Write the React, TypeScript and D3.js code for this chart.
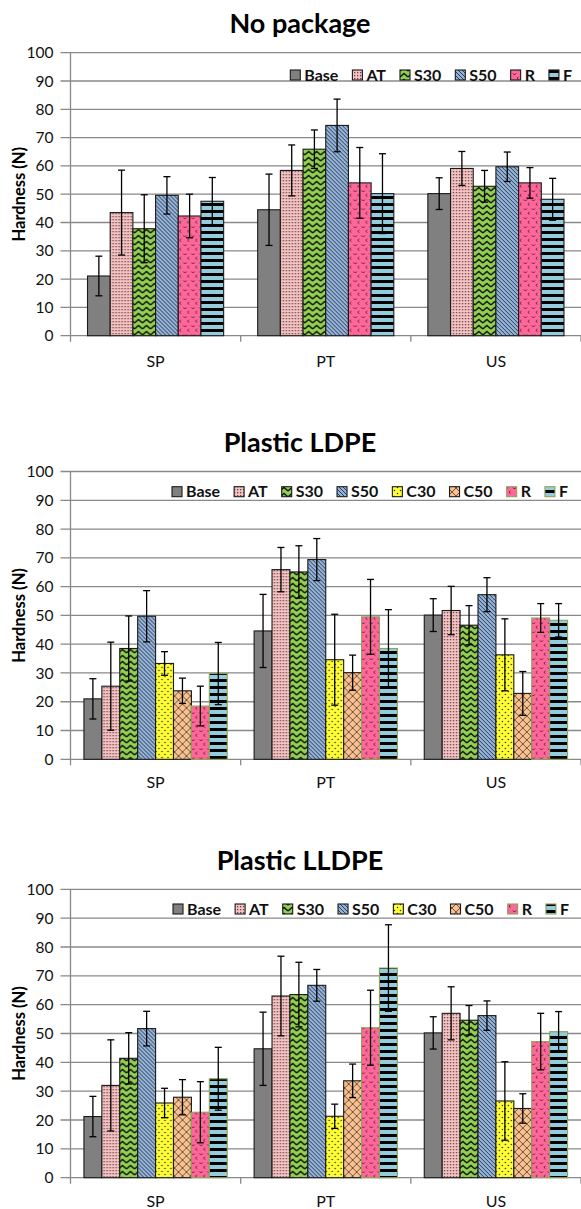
import React from "react";
import * as d3 from "d3";

const categories = ["SP", "PT", "US"];
const seriesNoPackage = ["Base", "AT", "S30", "S50", "R", "F"];
const seriesPlastic = ["Base", "AT", "S30", "S50", "C30", "C50", "R", "F"];

// rows = categories (SP, PT, US), columns = series
const noPackageMean = [
  [21.1, 43.5, 37.8, 49.6, 42.3, 47.5],
  [44.5, 58.4, 65.9, 74.3, 54.0, 50.2],
  [50.2, 59.1, 52.8, 59.7, 54.0, 48.2],
];
const noPackageSd = [
  [7.0, 15.0, 12.0, 6.6, 7.7, 8.4],
  [12.6, 9.0, 6.8, 9.3, 12.5, 14.1],
  [5.6, 6.0, 5.6, 5.2, 5.4, 7.4],
];
const ldpeMean = [
  [21.0, 25.4, 38.5, 49.7, 33.3, 23.8, 18.5, 29.8],
  [44.6, 65.9, 65.1, 69.4, 34.6, 30.1, 49.5, 38.5],
  [50.1, 51.7, 46.6, 57.2, 36.3, 22.9, 49.1, 48.3],
];
const ldpeSd = [
  [7.0, 15.3, 11.3, 8.9, 4.1, 4.4, 6.9, 10.8],
  [12.7, 7.7, 9.1, 7.3, 15.8, 6.1, 13.0, 13.5],
  [5.7, 8.4, 6.8, 5.9, 12.5, 7.6, 5.0, 5.8],
];
const lldpeMean = [
  [21.2, 32.0, 41.4, 51.7, 25.9, 27.9, 22.7, 34.3],
  [44.7, 63.0, 63.5, 66.7, 21.3, 33.6, 52.0, 72.7],
  [50.2, 57.0, 54.6, 56.2, 26.6, 24.0, 47.2, 50.6],
];
const lldpeSd = [
  [7.0, 15.8, 8.9, 6.0, 5.1, 6.1, 10.6, 10.9],
  [12.7, 13.8, 11.2, 5.5, 4.2, 5.8, 13.0, 15.0],
  [5.6, 9.2, 5.1, 5.1, 13.6, 5.1, 9.8, 7.0],
];
const yTicks = [0, 10, 20, 30, 40, 50, 60, 70, 80, 90, 100];

const FONT = "Lato, 'Noto Sans', sans-serif";
const GRID = "#898989";
const OLIVE = "#8ea35a";

const panels = [
  { title: "No package", series: seriesNoPackage, mean: noPackageMean, sd: noPackageSd,
    titleY: 33, top: 52.7, bottom: 335.7, legendY: 75, legendEnd: 572, labelY: 366.5, olive: false },
  { title: "Plastic LDPE", series: seriesPlastic, mean: ldpeMean, sd: ldpeSd,
    titleY: 452, top: 471.5, bottom: 759.3, legendY: 491.7, legendEnd: 568, labelY: 788, olive: true },
  { title: "Plastic LLDPE", series: seriesPlastic, mean: lldpeMean, sd: lldpeSd,
    titleY: 870, top: 889.3, bottom: 1177.7, legendY: 909, legendEnd: 569, labelY: 1206.5, olive: true },
];

const LEFT = 70.5;
const RIGHT = 581;

let ctx: CanvasRenderingContext2D | null = null;
function textWidth(s: string, font: string) {
  if (!ctx) ctx = document.createElement("canvas").getContext("2d");
  if (!ctx) return s.length * 9;
  ctx.font = font;
  return ctx.measureText(s).width;
}

function Patterns() {
  return (
    <defs>
      <pattern id="p-Base" patternUnits="userSpaceOnUse" width="4" height="4">
        <rect width="4" height="4" fill="#808080" />
      </pattern>
      <pattern id="p-AT" patternUnits="userSpaceOnUse" width="3" height="3">
        <rect width="3" height="3" fill="#f5c3c3" />
        <rect x="0" y="0" width="1.3" height="1.3" fill="#6b4545" />
      </pattern>
      <pattern id="p-S30" patternUnits="userSpaceOnUse" width="8" height="6">
        <rect width="8" height="6" fill="#92d050" />
        <path d="M0,5 L4,1.5 L8,5" stroke="#111" strokeWidth="1.4" fill="none" />
      </pattern>
      <pattern id="p-S50" patternUnits="userSpaceOnUse" width="4" height="4">
        <rect width="4" height="4" fill="#95b3d7" />
        <path d="M-1,-1 L5,5 M-1,3 L1,5 M3,-1 L5,1" stroke="#1f2f45" strokeWidth="0.9" />
      </pattern>
      <pattern id="p-C30" patternUnits="userSpaceOnUse" width="6" height="6">
        <rect width="6" height="6" fill="#ffff33" />
        <circle cx="1.5" cy="1.5" r="0.75" fill="#222" />
        <circle cx="4.5" cy="4.5" r="0.75" fill="#222" />
      </pattern>
      <pattern id="p-C50" patternUnits="userSpaceOnUse" width="8" height="8">
        <rect width="8" height="8" fill="#fac090" />
        <path d="M0,0 L8,8 M8,0 L0,8" stroke="#4a3a2a" strokeWidth="0.8" />
      </pattern>
      <pattern id="p-R" patternUnits="userSpaceOnUse" width="8" height="9">
        <rect width="8" height="9" fill="#ff6699" />
        <path d="M1,1.5 L2.5,3 L4,1.5" stroke="#3a1a24" strokeWidth="0.9" fill="none" />
        <path d="M6.5,5 L5,6.3 L6.5,7.6" stroke="#3a1a24" strokeWidth="0.9" fill="none" />
      </pattern>
      <pattern id="p-F" patternUnits="userSpaceOnUse" width="7" height="7">
        <rect width="7" height="7" fill="#93cddd" />
        <rect x="0" y="0" width="7" height="3" fill="#000" />
      </pattern>
    </defs>
  );
}

function Panel({ p }: { p: typeof panels[number] }) {
  const y = d3.scaleLinear().domain([0, 100]).range([p.bottom, p.top]);
  const x0 = d3.scaleBand<string>().domain(categories).range([LEFT, RIGHT]);
  const x1 = d3.scaleBand<string>().domain(p.series).range([0, x0.bandwidth()])
    .paddingInner(0).paddingOuter(0.75);
  const bw = x1.bandwidth();
  const stroke = (s: string) => (p.olive && (s === "R" || s === "F") ? OLIVE : "#1a1a1a");

  const legendFont = `bold 16px ${FONT}`;
  const items = p.series.map((s) => ({ s, w: textWidth(s, legendFont) }));
  const total = d3.sum(items, (d) => 10 + 4 + d.w) + 14 * (items.length - 1);
  let cursor = p.legendEnd - total;
  const legend = items.map((d) => {
    const xPos = cursor;
    cursor += 10 + 4 + d.w + 14;
    return { ...d, x: xPos };
  });

  return (
    <g>
      <text x={300} y={p.titleY} textAnchor="middle" fontFamily={FONT} fontWeight="bold" fontSize={27}>
        {p.title}
      </text>
      {yTicks.map((t) => (
        <g key={t}>
          <line x1={LEFT - 10} x2={RIGHT} y1={y(t)} y2={y(t)} stroke={GRID} strokeWidth={1.3} />
          <text x={LEFT - 17} y={y(t)} dy="0.36em" textAnchor="end" fontFamily={FONT} fontSize={15.5} fill="#111">
            {t}
          </text>
        </g>
      ))}
      <line x1={LEFT} x2={LEFT} y1={p.top} y2={p.bottom + 6} stroke={GRID} strokeWidth={1.3} />
      {categories.map((c) => (
        <line key={c} x1={x0(c)! + x0.bandwidth()} x2={x0(c)! + x0.bandwidth()} y1={p.bottom} y2={p.bottom + 6}
          stroke={GRID} strokeWidth={1.3} />
      ))}
      <text transform={`translate(25,${(p.top + p.bottom) / 2}) rotate(-90)`} textAnchor="middle"
        fontFamily={FONT} fontWeight="bold" fontSize={16.5}>
        Hardness (N)
      </text>
      {categories.map((c, ci) => (
        <g key={c} transform={`translate(${x0(c)},0)`}>
          {p.series.map((s, si) => {
            const v = p.mean[ci][si];
            const e = p.sd[ci][si];
            const bx = x1(s)!;
            return (
              <rect key={s} x={bx} y={y(v)} width={bw} height={y(0) - y(v)}
                fill={`url(#p-${s})`} stroke={stroke(s)} strokeWidth={1.1} />
            );
          })}
          {p.series.map((s, si) => {
            const v = p.mean[ci][si];
            const e = p.sd[ci][si];
            const cx = x1(s)! + bw / 2;
            return (
              <g key={s} stroke="#000" strokeWidth={1.3}>
                <line x1={cx} x2={cx} y1={y(v + e)} y2={y(v - e)} />
                <line x1={cx - 3.5} x2={cx + 3.5} y1={y(v + e)} y2={y(v + e)} />
                <line x1={cx - 3.5} x2={cx + 3.5} y1={y(v - e)} y2={y(v - e)} />
              </g>
            );
          })}
          <text x={x0.bandwidth() / 2} y={p.labelY} textAnchor="middle" fontFamily={FONT} fontSize={16} fill="#111">
            {c}
          </text>
        </g>
      ))}
      {legend.map((d) => (
        <g key={d.s}>
          <rect x={d.x} y={p.legendY - 5} width={10} height={10} fill={`url(#p-${d.s})`}
            stroke={stroke(d.s)} strokeWidth={1.1} />
          <text x={d.x + 14} y={p.legendY} dy="0.36em" fontFamily={FONT} fontWeight="bold" fontSize={16} fill="#111">
            {d.s}
          </text>
        </g>
      ))}
    </g>
  );
}

export default function App() {
  return (
    <svg width={581} height={1209} style={{ position: "absolute", left: 0, top: 0, background: "#fff" }}>
      <Patterns />
      {panels.map((p) => (
        <Panel key={p.title} p={p} />
      ))}
    </svg>
  );
}
